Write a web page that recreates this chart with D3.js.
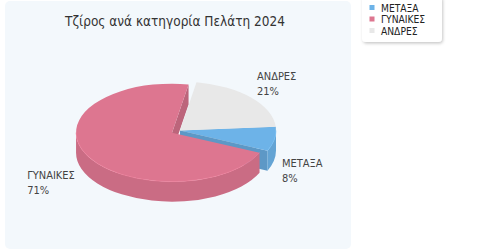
<!DOCTYPE html>
<html><head><meta charset="utf-8">
<script src="https://cdn.jsdelivr.net/npm/d3@7"></script>
<style>body{margin:0;background:#fff}svg{display:block}</style>
</head><body>
<svg id="c" width="480" height="250"></svg>
<script>
// ---- data ----
const title = "Τζίρος ανά κατηγορία Πελάτη 2024";
const categories = ["ΜΕΤΑΞΑ", "ΓΥΝΑΙΚΕΣ", "ΑΝΔΡΕΣ"];
const values = [8, 71, 21];
const colors = ["#6db3e8", "#dd7690", "#e8e8e8"];
const exploded = [false, true, false];

// ---- layout ----
const font = "'DejaVu Sans Condensed','DejaVu Sans',sans-serif";
const svg = d3.select("#c");
const defs = svg.append("defs");
const f = defs.append("filter").attr("id","sh").attr("x","-20%").attr("y","-20%").attr("width","150%").attr("height","150%");
f.append("feDropShadow").attr("dx",1).attr("dy",1.5).attr("stdDeviation",1.5).attr("flood-color","#000").attr("flood-opacity",0.22);

svg.append("rect").attr("x",5).attr("y",1).attr("width",346).attr("height",248).attr("rx",5).attr("fill","#f3f8fc");

const tt = svg.append("text").attr("x",175).attr("y",26).attr("text-anchor","middle")
  .attr("font-family",font).attr("font-size",14).attr("fill","#333").text(title);
const tw = tt.node().getComputedTextLength();
tt.attr("font-size", Math.min(15, 14 * 220 / tw));

const cx = 180, cy = 130.5, rx = 96, ry = 49, depth = 20, explodeR = 9;
const rot = -4.5 * Math.PI / 180;
const total = d3.sum(values);
const pie = d3.pie().sort(null).startAngle(Math.PI/2 + rot).endAngle(Math.PI/2 + rot + 2*Math.PI);
const arcs = pie(values).map((a, i) => {
  const t0 = a.startAngle - Math.PI/2, t1 = a.endAngle - Math.PI/2, m = (t0 + t1)/2;
  const off = exploded[i] ? explodeR : 0;
  return {i, t0, t1, m, c: {x: cx + off*Math.cos(m), y: cy + off*Math.sin(m)*ry/rx}};
});

const E = (c, t, dz=0) => [c.x + rx*Math.cos(t), c.y + ry*Math.sin(t) + dz];
const P = p => p[0].toFixed(2) + "," + p[1].toFixed(2);

const cuts = [], walls = [], tops = [];
arcs.forEach(a => {
  const col = d3.color(colors[a.i]);
  const c = a.c;
  [[a.t0, Math.cos(a.t0) < -1e-6], [a.t1, Math.cos(a.t1) > 1e-6]].forEach(([t, vis]) => {
    if (!vis) return;
    const p = E(c, t), q = E(c, t, depth);
    cuts.push({y: (c.y + p[1])/2, fill: col.darker(0.45), d: `M${c.x},${c.y}L${P(p)}L${P(q)}L${c.x},${c.y+depth}Z`});
  });
  [[0, Math.PI], [2*Math.PI, 3*Math.PI], [-2*Math.PI, -Math.PI]].forEach(([lo, hi]) => {
    const s = Math.max(a.t0, lo), e = Math.min(a.t1, hi);
    if (e > s) {
      walls.push({fill: col.darker(0.25), d: `M${P(E(c,s))}A${rx},${ry} 0 0 1 ${P(E(c,e))}L${P(E(c,e,depth))}A${rx},${ry} 0 0 0 ${P(E(c,s,depth))}Z`,
        rim: `M${P(E(c,s))}A${rx},${ry} 0 0 1 ${P(E(c,e))}`, col});
    }
  });
  const large = (a.t1 - a.t0) > Math.PI ? 1 : 0;
  tops.push({fill: col, d: `M${c.x},${c.y}L${P(E(c,a.t0))}A${rx},${ry} 0 ${large} 1 ${P(E(c,a.t1))}Z`});
});
cuts.sort((a,b) => a.y - b.y);
const g = svg.append("g");
g.selectAll(".cut").data(cuts).join("path").attr("d", d => d.d).attr("fill", d => d.fill);
g.selectAll(".wall").data(walls).join("path").attr("d", d => d.d).attr("fill", d => d.fill);
g.selectAll(".top").data(tops).join("path").attr("d", d => d.d).attr("fill", d => d.fill);
g.selectAll(".rim").data(walls).join("path").attr("d", d => d.rim).attr("fill","none")
  .attr("stroke", d => d.col.brighter(0.25)).attr("stroke-width",1).attr("opacity",0.6);

// labels
arcs.forEach(a => {
  const cosm = Math.cos(a.m), sinm = Math.sin(a.m);
  const right = cosm >= 0;
  const lx = a.c.x + rx*1.063*cosm + (right ? 1.5 : -7);
  const ly = sinm > 0 ? a.c.y + Math.max(ry*1.425*sinm + 17.5, 40.5)
                      : a.c.y + ry*1.425*sinm;
  const pct = Math.round(values[a.i]/total*100) + "%";
  const t = svg.append("text").attr("font-family",font).attr("font-size",11).attr("fill","#444");
  const l1 = t.append("tspan").attr("y", ly - 4).text(categories[a.i]);
  const l2 = t.append("tspan").attr("y", ly + 11).text(pct);
  const w = Math.max(l1.node().getComputedTextLength(), l2.node().getComputedTextLength());
  const x0 = right ? lx : lx - w;
  l1.attr("x", x0); l2.attr("x", x0);
});

// legend
const lg = svg.append("g");
lg.append("rect").attr("x",362).attr("y",-4).attr("width",80).attr("height",46).attr("rx",4)
  .attr("fill","#fff").attr("filter","url(#sh)");
categories.forEach((name, i) => {
  const by = 11.5 + i*11.5;
  lg.append("rect").attr("x",369.5).attr("y",by-6.5).attr("width",5).attr("height",5).attr("fill",colors[i]);
  lg.append("text").attr("x",381).attr("y",by).attr("font-family",font).attr("font-size",10.2)
    .attr("fill","#222").text(name);
});
</script>
</body></html>
